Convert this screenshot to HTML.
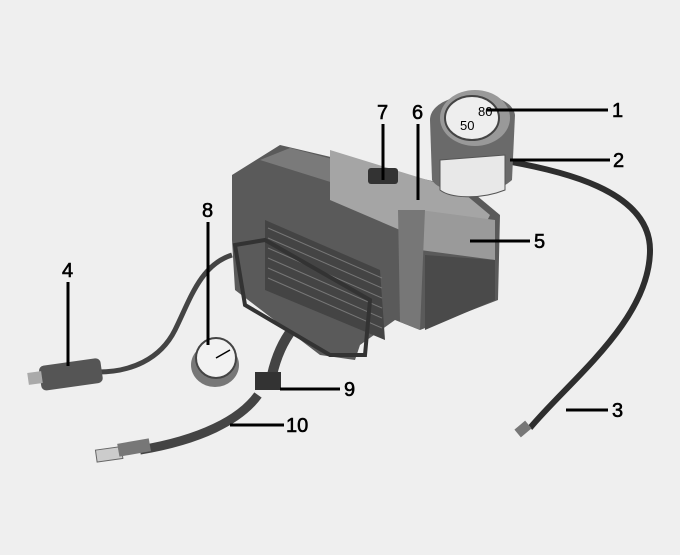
<!DOCTYPE html>
<html><head><style>
html,body{margin:0;padding:0;background:#efefef;}
svg{display:block}
text{font-family:"Liberation Sans",sans-serif;font-size:20px;fill:#000;stroke:#000;stroke-width:0.6}
</style></head><body>
<svg width="680" height="555" viewBox="0 0 680 555" xmlns="http://www.w3.org/2000/svg">
<rect width="680" height="555" fill="#efefef"/>
<!-- hoses -->
<path d="M500 160 C560 170 650 190 650 250 C650 320 570 380 530 428" stroke="#2e2e2e" stroke-width="6" fill="none"/>
<path d="M232 255 C200 265 190 300 175 330 C160 360 130 372 98 372" stroke="#444" stroke-width="5" fill="none"/>
<path d="M330 305 C300 310 280 340 272 375" stroke="#444" stroke-width="10" fill="none"/>
<path d="M258 395 C240 420 200 440 140 450" stroke="#444" stroke-width="9" fill="none"/>
<rect x="96" y="448" width="26" height="12" fill="#ccc" stroke="#666" transform="rotate(-8 111 453)"/>
<rect x="118" y="441" width="32" height="13" fill="#777" transform="rotate(-10 134 447)"/>
<rect x="516" y="424" width="14" height="10" fill="#777" transform="rotate(-40 523 429)"/>
<!-- plug 4 -->
<rect x="40" y="362" width="62" height="25" rx="5" fill="#555" transform="rotate(-8 70 375)"/>
<rect x="28" y="372" width="14" height="12" fill="#aaa" transform="rotate(-8 35 378)"/>
<!-- compressor -->
<polygon points="232,240 232,175 280,145 470,190 500,215 498,300 420,330 395,320 360,345 355,360 320,355 235,290" fill="#5a5a5a"/>
<polygon points="260,160 290,148 470,195 420,210" fill="#7a7a7a"/>
<polygon points="330,150 460,190 490,215 470,255 400,230 330,200" fill="#a5a5a5"/>
<polygon points="420,210 495,220 495,260 420,250" fill="#9a9a9a"/>
<polygon points="398,210 425,210 420,330 400,322" fill="#777"/>
<polygon points="425,255 495,260 495,300 425,330" fill="#4a4a4a"/>
<polygon points="265,220 380,270 385,340 265,290" fill="#444"/>
<g stroke="#777" stroke-width="1">
<line x1="268" y1="228" x2="382" y2="278"/><line x1="268" y1="238" x2="382" y2="288"/><line x1="268" y1="248" x2="382" y2="298"/><line x1="268" y1="258" x2="382" y2="308"/><line x1="268" y1="268" x2="382" y2="318"/><line x1="268" y1="278" x2="382" y2="328"/>
</g>
<polygon points="235,245 265,240 370,300 365,355 330,355 245,305" fill="none" stroke="#333" stroke-width="4"/>
<rect x="368" y="168" width="30" height="16" rx="3" fill="#333"/>
<!-- sealant bottle -->
<path d="M430 120 C430 90 510 85 515 115 L512 180 C490 200 440 195 432 180 Z" fill="#6a6a6a"/>
<path d="M440 160 L505 155 L505 190 C480 200 450 198 440 190 Z" fill="#e8e8e8" stroke="#555"/>
<ellipse cx="475" cy="118" rx="35" ry="28" fill="#999"/>
<ellipse cx="472" cy="118" rx="27" ry="22" fill="#eee" stroke="#444" stroke-width="2"/>
<text x="460" y="130" font-size="13" style="font-size:13px;stroke-width:0">50</text>
<text x="478" y="116" style="font-size:13px;stroke-width:0">80</text>
<!-- gauge 8 -->
<ellipse cx="215" cy="365" rx="24" ry="22" fill="#777"/>
<circle cx="216" cy="358" r="20" fill="#f2f2f2" stroke="#444" stroke-width="2"/>
<line x1="216" y1="358" x2="230" y2="350" stroke="#000" stroke-width="1.5"/>
<rect x="255" y="372" width="26" height="18" fill="#333"/>
<!-- leader lines -->
<g stroke="#000" stroke-width="3">
<line x1="487" y1="110" x2="608" y2="110"/>
<line x1="510" y1="160" x2="610" y2="160"/>
<line x1="566" y1="410" x2="608" y2="410"/>
<line x1="68" y1="282" x2="68" y2="366"/>
<line x1="470" y1="241" x2="530" y2="241"/>
<line x1="418" y1="124" x2="418" y2="200"/>
<line x1="383" y1="124" x2="383" y2="180"/>
<line x1="208" y1="222" x2="208" y2="345"/>
<line x1="280" y1="389" x2="340" y2="389"/>
<line x1="230" y1="425" x2="284" y2="425"/>
</g>
<text x="612" y="117">1</text>
<text x="613" y="167">2</text>
<text x="612" y="417">3</text>
<text x="62" y="277">4</text>
<text x="534" y="248">5</text>
<text x="412" y="119">6</text>
<text x="377" y="119">7</text>
<text x="202" y="217">8</text>
<text x="344" y="396">9</text>
<text x="286" y="432">10</text>
</svg>
</body></html>
